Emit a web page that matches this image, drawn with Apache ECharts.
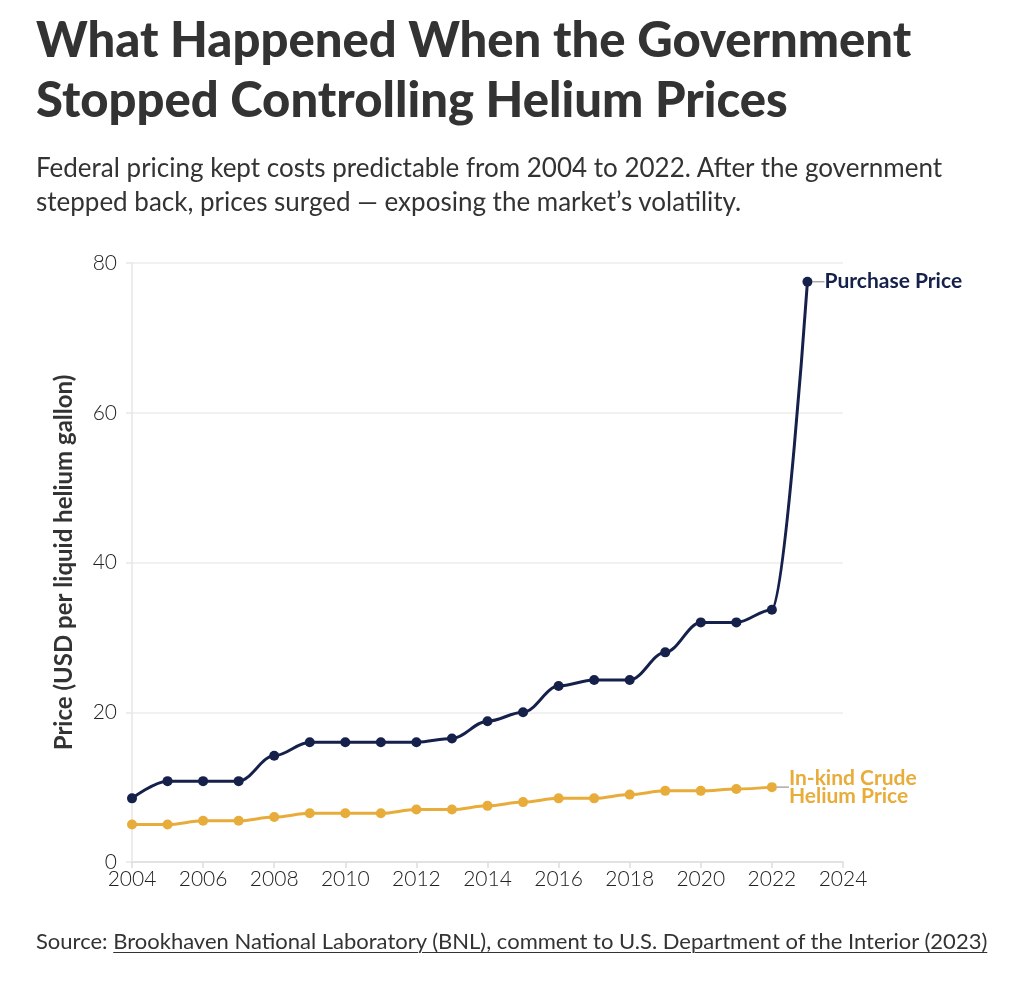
<!DOCTYPE html>
<html><head><meta charset="utf-8">
<script src="https://cdn.jsdelivr.net/npm/echarts@6/dist/echarts.min.js"></script>
<style>
html,body{margin:0;padding:0;background:#fff;}
#wrap{position:relative;width:1024px;height:985px;font-family:"Lato","Noto Sans",sans-serif;color:#333;}
#chart{position:absolute;left:0;top:0;width:1024px;height:985px;}
#title{position:absolute;left:36px;top:8px;font-size:49px;font-weight:900;line-height:60px;color:#333;white-space:nowrap;}
#sub{position:absolute;left:36px;top:150px;font-size:26px;line-height:34px;color:#333;white-space:nowrap;}
#src{position:absolute;left:36px;top:927px;font-size:22px;color:#333;white-space:nowrap;}
#src u{text-underline-offset:3px;text-decoration-thickness:1px;}
</style></head>
<body><div id="wrap">
<div id="chart"></div>
<div id="title">What Happened When the Government<br>Stopped Controlling Helium Prices</div>
<div id="sub">Federal pricing kept costs predictable from 2004 to 2022. After the government<br>stepped back, prices surged — exposing the market’s volatility.</div>
<div id="src">Source: <u>Brookhaven National Laboratory (BNL), comment to U.S. Department of the Interior (2023)</u></div>
</div>
<script>
const purchaseYears = [2004,2005,2006,2007,2008,2009,2010,2011,2012,2013,2014,2015,2016,2017,2018,2019,2020,2021,2022,2023];
const purchasePrice = [8.5,10.8,10.8,10.8,14.2,16,16,16,16,16.5,18.8,20,23.5,24.3,24.3,28,32,32,33.7,77.5];
const crudeYears = [2004,2005,2006,2007,2008,2009,2010,2011,2012,2013,2014,2015,2016,2017,2018,2019,2020,2021,2022];
const crudePrice = [5,5,5.5,5.5,6,6.5,6.5,6.5,7,7,7.5,8,8.5,8.5,9,9.5,9.5,9.75,10];
const seriesNames = ['Purchase Price','In-kind Crude\nHelium Price'];
const yTicks = {min:0,max:80,interval:20};
const xTicks = {min:2004,max:2024,interval:2};

const navy = '#15214b', gold = '#e8ac3a';
function build(xs, ys, color, name){
  return xs.map((x,i)=>{
    const d = {value:[x, ys[i]]};
    if(i===xs.length-1){
      d.label = {show:true, position:'right', distance:4, formatter:name, color:color,
        fontSize:21, fontWeight:'bold', fontFamily:'Lato', lineHeight:18, align:'left'};
      d.labelLine = {show:true, length2:0, lineStyle:{color:'#aaa', width:1.5}};
    }
    return d;
  });
}
const chart = echarts.init(document.getElementById('chart'));
chart.setOption({
  animation:false,
  grid:{left:132,right:181,top:263,bottom:123},
  xAxis:{type:'value',min:xTicks.min,max:xTicks.max,interval:xTicks.interval,
    axisLine:{show:true,lineStyle:{color:'#ddd',width:1.5}},
    axisTick:{show:true,length:6,lineStyle:{color:'#ddd',width:1.5}},
    splitLine:{show:false},
    axisLabel:{color:'#222',fontSize:21,fontWeight:300,fontFamily:'Lato',margin:7,formatter:v=>String(v)}},
  yAxis:{type:'value',min:yTicks.min,max:yTicks.max,interval:yTicks.interval,
    name:'Price (USD per liquid helium gallon)',nameLocation:'middle',nameGap:56,
    nameTextStyle:{color:'#333',fontSize:24,fontWeight:'bold',fontFamily:'Lato'},
    axisLine:{show:true,lineStyle:{color:'#e6e6e6',width:1.5}},
    axisTick:{show:true,length:6,lineStyle:{color:'#e6e6e6',width:1.5}},
    splitLine:{show:true,lineStyle:{color:'#ececec',width:1.5}},
    axisLabel:{color:'#222',fontSize:21,fontWeight:300,fontFamily:'Lato',margin:15}},
  series:[
    {type:'line',name:seriesNames[0],data:build(purchaseYears,purchasePrice,navy,seriesNames[0]),
     smooth:0.35,smoothMonotone:'x',symbol:'circle',symbolSize:10,
     lineStyle:{color:navy,width:3},itemStyle:{color:navy},
     labelLayout:{dx:8},z:3},
    {type:'line',name:seriesNames[1],data:build(crudeYears,crudePrice,gold,seriesNames[1]),
     smooth:0.35,smoothMonotone:'x',symbol:'circle',symbolSize:10,
     lineStyle:{color:gold,width:3},itemStyle:{color:gold},
     labelLayout:{dx:8},z:2}
  ]
});
</script>
</body></html>
